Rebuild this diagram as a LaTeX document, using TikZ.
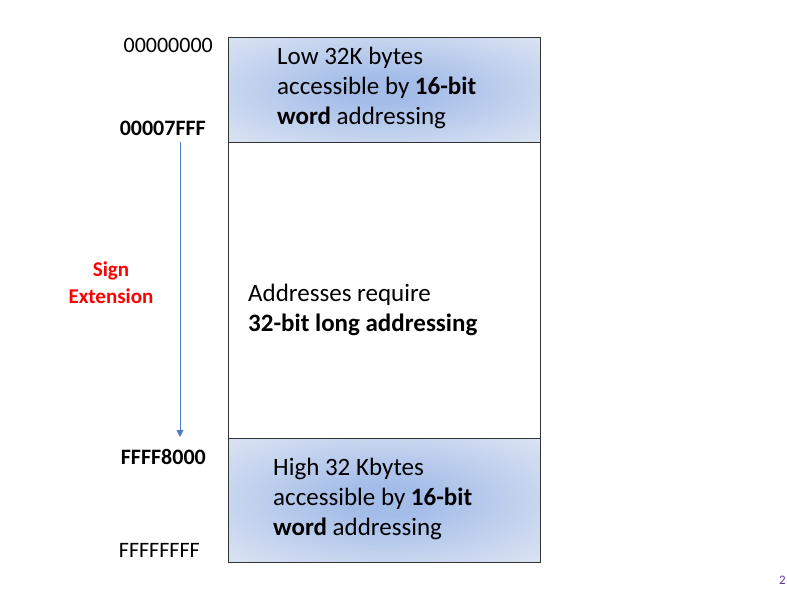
\documentclass[tikz,border=0pt]{standalone}
\usepackage{fontspec}
\setmainfont{Carlito}
\usetikzlibrary{positioning, arrows.meta}
\definecolor{shadeblue}{HTML}{A3BCE8}
\definecolor{shadeedge}{HTML}{DCE4F3}
\definecolor{arrowblue}{HTML}{4A7CC7}
\definecolor{pagepurple}{HTML}{7030A0}
\pgfdeclareradialshading{boxglow}{\pgfpoint{0bp}{0bp}}{%
    color(0bp)=(shadeblue); color(6bp)=(shadeblue);
    color(25bp)=(shadeblue!35!shadeedge); color(36bp)=(shadeedge);
    color(50bp)=(shadeedge)}
\tikzset{
    region/.style={draw=black!80, line width=0.9pt},
    shaded/.style={region, shading=boxglow},
    boxtext/.style={align=left, inner sep=0pt, anchor=west, font=\fontsize{25}{30}\selectfont},
    addr/.style={inner sep=0pt, anchor=east, font=\fontsize{22}{25}\selectfont},
}
\begin{document}
\begin{tikzpicture}[x=1pt,y=-1pt]
            \useasboundingbox (0,0) rectangle (787,597);
            % memory map
            \draw[shaded] (228,37) rectangle (540,142);
            \draw[region,fill=white] (228,142) rectangle (540,438);
            \draw[shaded] (228,438) rectangle (540,562);
            \node[boxtext] (low) at (277,88) {Low 32K bytes\\accessible by \textbf{16-bit}\\\textbf{word} addressing};
            \node[boxtext] (mid) at (248,310) {Addresses require\\\textbf{32-bit long addressing}};
            \node[boxtext] (high) at (273,499) {High 32 Kbytes\\accessible by \textbf{16-bit}\\\textbf{word} addressing};
            % addresses
            \node[addr] (a0) at (213,45) {00000000};
            \node[addr] (a1) at (206,128) {\textbf{00007FFF}};
            \node[addr] (a2) at (206,457) {\textbf{FFFF8000}};
            \node[addr] (a3) at (200,550) {FFFFFFFF};
            % sign extension arrow
            \coordinate (top) at (180,142);
            \coordinate (bot) at (180,437);
            \draw[arrowblue, line width=0.9pt, -{Triangle[length=7pt,width=7pt]}] (top) -- (bot);
            \node[align=center, text=red, font=\fontsize{21}{27}\selectfont\bfseries] (sign) at (111,283) {Sign\\Extension};
            \node[anchor=west, inner sep=0pt, text=pagepurple, font=\fontsize{13}{15}\selectfont] (page) at (779,580) {2};
        \end{tikzpicture}
\end{document}
